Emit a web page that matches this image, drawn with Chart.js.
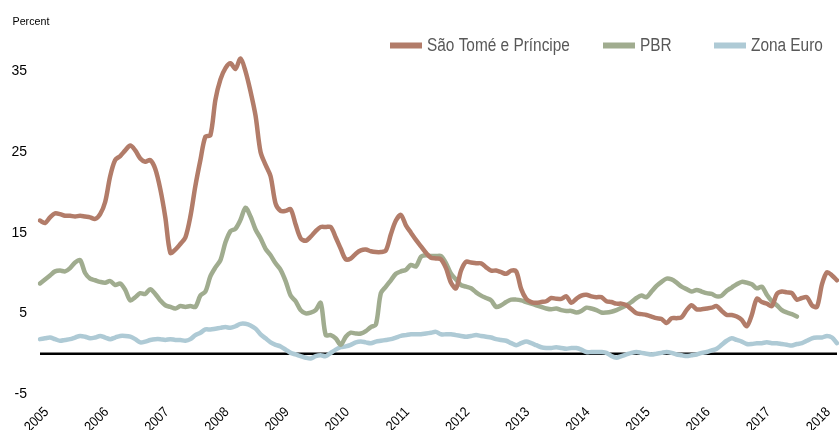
<!DOCTYPE html>
<html><head><meta charset="utf-8">
<script src="https://cdn.jsdelivr.net/npm/chart.js@4/dist/chart.umd.min.js"></script>
<style>html,body{margin:0;padding:0;background:#fff}#wrap{width:839px;height:430px;position:relative}</style>
</head><body><div id="wrap"><canvas id="c"></canvas></div>
<script>
// ---- data (monthly, Dec 2004 – Mar 2018) ----
const yearTicks = ['2005','2006','2007','2008','2009','2010','2011','2012','2013','2014','2015','2016','2017','2018'];
const monthCodes = ['01','02','03','04','05','06','07','08','09','10','11','12'];
const months = ['2004-12'];
yearTicks.forEach(y => monthCodes.forEach(m => { if (!(y === '2018' && +m > 3)) months.push(y + '-' + m); }));

const saoTome = [
16.5,16.2,16.9,17.4,17.3,17.1,17.1,17.0,17.1,17.0,16.9,16.7,
17.3,18.8,22.0,24.0,24.5,25.2,25.8,25.2,24.2,23.8,24.0,22.9,
20.4,16.9,12.5,12.9,13.6,14.4,17.0,20.8,24.0,26.9,27.1,31.5,
34.0,35.4,36.0,35.3,36.6,35.0,32.5,29.5,25.0,23.4,22.0,18.6,
17.7,17.7,17.9,16.0,14.3,14.0,14.5,15.2,15.7,15.7,15.7,14.4,
13.0,11.7,11.8,12.4,12.8,12.9,12.7,12.6,12.6,12.8,14.8,16.5,
17.2,15.9,15.0,14.1,13.3,12.5,11.9,11.8,11.7,10.6,8.8,8.1,
10.3,11.4,11.3,11.2,11.2,10.7,10.3,10.3,10.1,9.9,10.3,10.2,8.0,
6.8,6.4,6.3,6.4,6.5,6.9,6.8,6.8,7.1,6.3,6.8,7.2,
7.3,7.1,7.0,7.0,6.5,6.4,6.2,6.2,6.0,5.5,5.0,4.9,
4.8,4.6,4.4,4.3,3.8,4.4,4.4,4.5,5.4,6.0,5.5,5.5,
5.6,5.7,5.9,5.3,4.8,4.8,4.6,4.2,3.4,4.8,6.8,6.4,
6.2,5.9,7.4,7.7,7.6,7.5,6.7,6.9,7.0,6.0,5.8,8.6,
10.1,9.7,9.1
];
const pbr = [
8.7,9.2,9.7,10.2,10.3,10.2,10.6,11.3,11.6,10.0,9.3,9.1,
8.9,8.8,9.0,8.5,8.7,7.9,6.6,7.0,7.5,7.4,8.0,7.4,
6.6,6.0,5.8,5.6,5.9,5.8,5.9,5.8,7.2,7.7,9.6,10.7,
11.6,13.8,15.2,15.5,16.6,18.1,17.0,15.4,14.3,13.0,12.2,11.2,
10.4,9.0,7.2,6.5,5.4,5.0,5.1,5.4,6.3,2.3,2.3,1.9,
1.1,2.1,2.6,2.5,2.5,2.8,3.3,3.6,7.5,8.3,9.1,9.9,
10.2,10.4,11.0,10.8,12.0,12.2,12.1,12.1,12.1,11.2,9.9,9.2,
8.5,8.3,8.1,7.6,7.2,6.9,6.6,5.8,6.0,6.4,6.7,6.7,6.6,
6.4,6.2,6.0,5.8,5.6,5.5,5.6,5.4,5.3,5.3,5.1,5.3,
5.7,5.6,5.4,5.1,5.1,5.2,5.4,5.7,6.0,6.4,6.9,7.2,
7.0,7.7,8.4,8.9,9.3,9.2,8.8,8.3,8.0,7.7,7.9,7.7,
7.5,7.4,7.1,7.2,7.8,8.2,8.6,8.9,8.8,8.6,8.1,8.3,
7.3,6.5,6.0,5.4,5.1,4.9,4.6
];
const zonaEuro = [
1.8,1.9,2.0,1.8,1.6,1.7,1.8,2.0,2.2,2.1,1.9,2.0,
2.2,2.0,1.8,2.0,2.2,2.2,2.1,1.8,1.4,1.5,1.7,1.8,
1.8,1.7,1.8,1.7,1.7,1.6,1.8,2.3,2.6,3.0,3.0,3.1,
3.2,3.3,3.2,3.4,3.7,3.7,3.5,3.1,2.4,1.9,1.4,1.1,
0.9,0.5,0.1,-0.1,-0.3,-0.5,-0.6,-0.3,-0.2,-0.3,0.1,0.5,
0.8,0.9,1.1,1.4,1.5,1.4,1.3,1.5,1.6,1.7,1.8,2.0,
2.2,2.3,2.4,2.4,2.4,2.5,2.6,2.7,2.4,2.4,2.4,2.3,
2.2,2.1,2.2,2.3,2.2,2.1,2.0,1.8,1.7,1.6,1.3,1.05,1.3,
1.5,1.3,1.05,0.8,0.7,0.7,0.8,0.7,0.6,0.7,0.7,0.5,
0.2,0.2,0.2,0.2,0.1,-0.3,-0.5,-0.3,-0.1,0.1,0.2,0.1,
0.0,-0.1,0.0,0.1,0.2,0.1,-0.1,-0.2,-0.3,-0.2,-0.1,0.1,
0.2,0.4,0.6,1.1,1.6,1.9,1.7,1.5,1.2,1.2,1.3,1.3,
1.4,1.3,1.3,1.2,1.1,1.0,1.2,1.3,1.6,1.9,2.0,2.0,
2.2,2.0,1.3
];
const seriesNames = ['São Tomé e Príncipe', 'PBR', 'Zona Euro'];
const seriesColors = ['#b27c69', '#a0ac8f', '#aecad5'];
const yTickValues = [-5, 5, 15, 25, 35];
const yAxisTitle = 'Percent';

// ---- styling ----
const FONT = '"Liberation Sans", Arial, Helvetica, sans-serif';
const legendX = [390, 603, 714];

function condensedText(ctx, text, x, y, sx, rot) {
  ctx.save();
  ctx.translate(x, y);
  if (rot) ctx.rotate(rot);
  ctx.scale(sx, 1);
  ctx.fillText(text, 0, 0);
  ctx.restore();
}

const extras = {
  id: 'extras',
  beforeDatasetsDraw(chart) {
    const {ctx, chartArea, scales} = chart;
    const y0 = scales.y.getPixelForValue(0);
    ctx.save();
    ctx.strokeStyle = '#000';
    ctx.lineWidth = 2.5;
    ctx.beginPath();
    ctx.moveTo(chartArea.left, y0);
    ctx.lineTo(chartArea.right, y0);
    ctx.stroke();
    ctx.restore();
  },
  afterDraw(chart) {
    const {ctx, chartArea, scales} = chart;
    ctx.save();
    ctx.fillStyle = '#000';
    ctx.textAlign = 'left';
    ctx.textBaseline = 'alphabetic';
    ctx.font = '11.5px ' + FONT;
    condensedText(ctx, yAxisTitle, 12.5, 25, 0.93);
    ctx.font = '14px ' + FONT;
    ctx.textAlign = 'right';
    ctx.textBaseline = 'middle';
    chart.data.labels.forEach((l, i) => {
      if (!l.endsWith('-01')) return;
      const x = scales.x.getPixelForValue(i) + 1.5;
      condensedText(ctx, l.slice(0, 4), x, chartArea.bottom + 16, 0.88, -Math.PI / 4);
    });
    ctx.font = '18px ' + FONT;
    ctx.textAlign = 'left';
    ctx.textBaseline = 'alphabetic';
    chart.data.datasets.forEach((ds, i) => {
      const x = legendX[i];
      ctx.fillStyle = ds.borderColor;
      ctx.fillRect(x, 42.5, 32, 6);
      ctx.fillStyle = '#585858';
      condensedText(ctx, ds.label, x + 37, 51, 0.855);
    });
    ctx.restore();
  }
};

new Chart(document.getElementById('c'), {
  type: 'line',
  data: {
    labels: months,
    datasets: [
      {label: seriesNames[0], data: saoTome, borderColor: seriesColors[0]},
      {label: seriesNames[1], data: pbr, borderColor: seriesColors[1]},
      {label: seriesNames[2], data: zonaEuro, borderColor: seriesColors[2]}
    ].map(d => Object.assign(d, {borderWidth: 4.5, pointRadius: 0, tension: 0.3, fill: false, backgroundColor: d.borderColor, borderCapStyle: 'round', borderJoinStyle: 'round'}))
  },
  options: {
    responsive: true,
    maintainAspectRatio: false,
    animation: false,
    devicePixelRatio: 1,
    layout: {padding: {top: 31, right: 2, left: 0, bottom: 0}},
    plugins: {legend: {display: false}, tooltip: {enabled: false}},
    scales: {
      x: {
        type: 'category',
        offset: false,
        grid: {display: false, drawTicks: false},
        border: {display: false},
        ticks: {display: false},
        afterFit(s) { s.height = 36; }
      },
      y: {
        min: -5, max: 40,
        grid: {display: false, drawTicks: false},
        border: {display: false},
        ticks: {stepSize: 10, color: '#000', font: {family: FONT, size: 14}, padding: 13},
        afterBuildTicks(s) { s.ticks = yTickValues.map(v => ({value: v})); },
        afterFit(s) { s.width = 40; }
      }
    }
  },
  plugins: [extras]
});
</script>
</body></html>
